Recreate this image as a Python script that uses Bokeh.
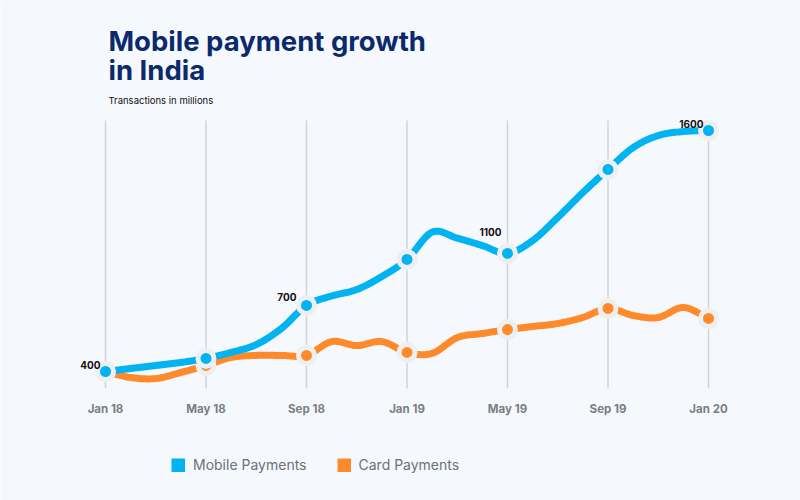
import numpy as np
from bokeh.plotting import figure
from bokeh.models import Range1d, Label, Legend, LegendItem, ColumnDataSource, FixedTicker
from bokeh.core.properties import value
from bokeh.embed import file_html
from bokeh.resources import INLINE

# ---- data (transactions in millions, monthly Jan 2018 - Jan 2020) ----
months = list(range(25))
tick_months = [0, 4, 8, 12, 16, 20, 24]
tick_labels = ["Jan 18", "May 18", "Sep 18", "Jan 19", "May 19", "Sep 19", "Jan 20"]
mobile = [400, 415, 430, 445, 465, 495, 534, 614, 729, 776, 808, 873, 958,
          1094, 1064, 1027, 988, 1052, 1167, 1291, 1406, 1515, 1575, 1595, 1600]
card = [400, 370, 365, 395, 430, 470, 480, 480, 480, 549, 529, 549, 495,
        490, 569, 589, 609, 624, 639, 669, 714, 679, 669, 719, 664]
label_months = [0, 8, 16, 24]
label_texts = ["400", "700", "1100", "1600"]

BG = "#f5f8fd"
BLUE = "#02b3f1"
ORANGE = "#ff8a2b"
RING = "#eeeff1"
FONT = "Inter"

# pixel geometry of the plotting area
W, H = 800, 500          # frame size
X0, DX = 105.0, 25.125   # px of month 0, px per month
Y400, PPU = 371.0, 0.20083  # px of value 400, px per unit


def yv(py):
    return 400 + (Y400 - py) / PPU


def smooth(xs, ys, n=12):
    xs = np.asarray(xs, float)
    ys = np.asarray(ys, float)
    px = np.concatenate([[2 * xs[0] - xs[1]], xs, [2 * xs[-1] - xs[-2]]])
    py = np.concatenate([[2 * ys[0] - ys[1]], ys, [2 * ys[-1] - ys[-2]]])
    ox, oy = [], []
    for i in range(1, len(px) - 2):
        t = np.linspace(0, 1, n, endpoint=False)
        for P, out in ((px, ox), (py, oy)):
            p0, p1, p2, p3 = P[i - 1], P[i], P[i + 1], P[i + 2]
            out.extend(0.5 * ((2 * p1) + (-p0 + p2) * t + (2 * p0 - 5 * p1 + 4 * p2 - p3) * t ** 2
                              + (-p0 + 3 * p1 - 3 * p2 + p3) * t ** 3))
    ox.append(xs[-1])
    oy.append(ys[-1])
    return ox, oy


p = figure(width=800, height=500, output_backend="svg", toolbar_location=None,
           x_range=Range1d(-X0 / DX, (W - X0) / DX), y_range=Range1d(yv(H), yv(0)),
           min_border_left=0, min_border_right=0, min_border_top=0, min_border_bottom=0)
p.background_fill_color = BG
p.border_fill_color = BG
p.outline_line_color = None
p.yaxis.visible = False
p.ygrid.visible = False
p.xgrid.visible = False

ax = p.xaxis[0]
ax.ticker = FixedTicker(ticks=tick_months)
ax.major_label_overrides = {m: l for m, l in zip(tick_months, tick_labels)}
ax.fixed_location = yv(401)
ax.axis_line_color = None
ax.major_tick_line_color = None
ax.minor_tick_line_color = None
ax.major_tick_out = 0
ax.major_tick_in = 0
ax.major_label_standoff = 0
ax.major_label_text_font = FONT
ax.major_label_text_font_style = "bold"
ax.major_label_text_font_size = "11.5px"
ax.major_label_text_color = "#7b7e84"

# vertical grid lines at the ticks
p.segment(x0=tick_months, x1=tick_months, y0=[yv(388)] * len(tick_months),
          y1=[yv(120)] * len(tick_months), line_color="#d2d4d9", line_width=1.5)

sx, sy = smooth(months, card)
p.line(sx, sy, line_color=ORANGE, line_width=7, line_cap="round", line_join="round")
p.scatter([months[m] for m in tick_months], [card[m] for m in tick_months], size=16,
          fill_color=ORANGE, line_color=RING, line_width=5)

mx, my = smooth(months, mobile)
p.line(mx, my, line_color=BLUE, line_width=7, line_cap="round", line_join="round")
p.scatter([months[m] for m in tick_months], [mobile[m] for m in tick_months], size=16,
          fill_color=BLUE, line_color=RING, line_width=5)

# value labels
lab_src = ColumnDataSource(dict(x=[months[m] for m in label_months],
                                y=[mobile[m] for m in label_months],
                                t=label_texts,
                                dx=[-5, -10, -6, -5],
                                dy=[-3, -4, -17, -3]))
p.text(x="x", y="y", text="t", x_offset="dx", y_offset="dy", source=lab_src,
       text_font=value(FONT), text_font_size="10px", text_color="#111111",
       text_align="right", text_baseline="bottom", text_font_style="bold")

# title & subtitle
tx = (108 - X0) / DX
for txt, py, size, style, col in [("Mobile payment growth", 40.5, "27.5px", "bold", "#0b2a6c"),
                                  ("in India", 69.5, "27.5px", "bold", "#0b2a6c"),
                                  ("Transactions in millions", 100, "9.5px", "normal", "#111111")]:
    p.add_layout(Label(x=tx, y=yv(py), text=txt, text_font=FONT, text_font_size=size,
                       text_font_style=style, text_color=col, text_baseline="alphabetic"))

# legend with square swatches
r_m = p.line([np.nan], [np.nan], line_color=BLUE, line_width=14, line_cap="butt")
r_c = p.line([np.nan], [np.nan], line_color=ORANGE, line_width=14, line_cap="butt")
legend = Legend(items=[LegendItem(label="Mobile Payments", renderers=[r_m]),
                       LegendItem(label="Card Payments", renderers=[r_c])],
                orientation="horizontal", location=(171, H - 473),
                glyph_width=14, glyph_height=14, label_height=14, label_standoff=8,
                spacing=30, padding=0, margin=0, border_line_color=None,
                background_fill_alpha=0, label_text_font=FONT,
                label_text_font_size="14px", label_text_color="#6d7178")
p.add_layout(legend)

html = file_html(p, INLINE)
html = html.replace("<body>", '<body style="margin:0;background:%s;">' % BG, 1)
open("out.html", "w").write(html)
